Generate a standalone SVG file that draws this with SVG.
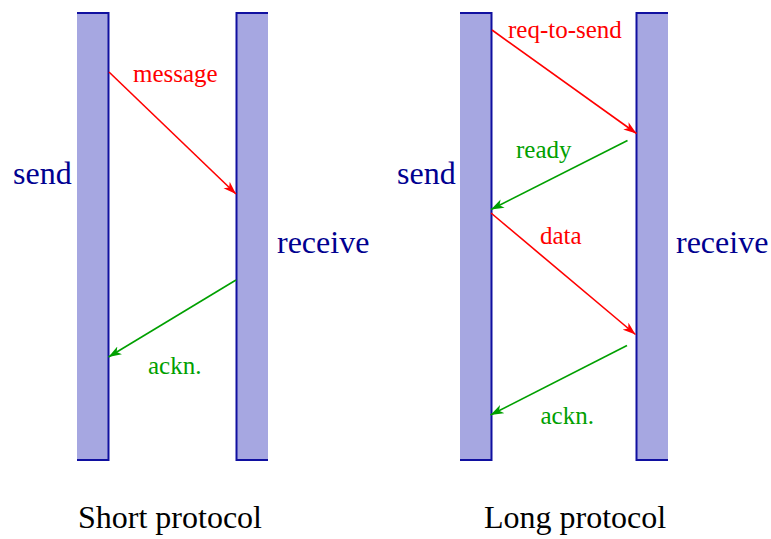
<svg xmlns="http://www.w3.org/2000/svg" width="771" height="539" viewBox="0 0 771 539">
  <style>
    .bar { fill: #a6a7e1; stroke: none; }
    .edge { fill: none; stroke: #1010a0; stroke-width: 2; }
    .big { font-family: "Liberation Serif", "Times New Roman", serif; font-size: 32px; }
    .side { fill: #000090; }
    .caption { fill: #000000; }
    .lbl { font-family: "Liberation Serif", "Times New Roman", serif; font-size: 25px; }
    .red { fill: #ff0000; }
    .green { fill: #00a000; }
    .msg { fill: none; stroke-width: 1.6; }
    .msg.r { stroke: #ff0000; marker-end: url(#headRed); }
    .msg.g { stroke: #00a000; marker-end: url(#headGreen); }
  </style>
  <defs>
    <marker id="headRed" markerUnits="userSpaceOnUse" markerWidth="14" markerHeight="10" refX="13" refY="5" orient="auto">
      <path d="M0,0.5 L13,5 L0,9.5 L3.5,5 Z" fill="#ff0000"/>
    </marker>
    <marker id="headGreen" markerUnits="userSpaceOnUse" markerWidth="14" markerHeight="10" refX="13" refY="5" orient="auto">
      <path d="M0,0.5 L13,5 L0,9.5 L3.5,5 Z" fill="#00a000"/>
    </marker>
  </defs>

  <!-- Short protocol: sender and receiver timelines -->
  <g id="short-send">
    <rect class="bar" x="77" y="13" width="32" height="447"/>
    <path class="edge" d="M77,13 H108.5 V460 H77"/>
    <text class="big side" x="13" y="184">send</text>
  </g>
  <g id="short-receive">
    <rect class="bar" x="236" y="13" width="32" height="447"/>
    <path class="edge" d="M268,13 H236.5 V460 H268"/>
    <text class="big side" x="277" y="253">receive</text>
  </g>

  <!-- Long protocol: sender and receiver timelines -->
  <g id="long-send">
    <rect class="bar" x="460" y="13" width="32" height="447"/>
    <path class="edge" d="M460,13 H491.5 V460 H460"/>
    <text class="big side" x="397" y="184">send</text>
  </g>
  <g id="long-receive">
    <rect class="bar" x="636" y="13" width="32" height="447"/>
    <path class="edge" d="M668,13 H636.5 V460 H668"/>
    <text class="big side" x="676" y="253">receive</text>
  </g>

  <!-- Messages exchanged between timelines -->
  <g id="connectors">
    <line class="msg r" x1="109" y1="72" x2="236" y2="194"/>
    <line class="msg g" x1="236" y1="280" x2="108.5" y2="357"/>
    <line class="msg r" x1="492" y1="30" x2="636.5" y2="133.5"/>
    <line class="msg g" x1="627.5" y1="140.5" x2="491" y2="209.5"/>
    <line class="msg r" x1="491" y1="213" x2="635.5" y2="334.5"/>
    <line class="msg g" x1="627" y1="345.5" x2="490.5" y2="415"/>
  </g>

  <g id="labels">
    <text class="lbl red" x="133" y="82">message</text>
    <text class="lbl green" x="148" y="374">ackn.</text>
    <text class="lbl red" x="508" y="38">req-to-send</text>
    <text class="lbl green" x="516" y="158">ready</text>
    <text class="lbl red" x="540" y="244">data</text>
    <text class="lbl green" x="540.5" y="424">ackn.</text>
  </g>

  <g id="captions">
    <text class="big caption" x="78" y="528">Short protocol</text>
    <text class="big caption" x="484" y="528">Long protocol</text>
  </g>
</svg>
